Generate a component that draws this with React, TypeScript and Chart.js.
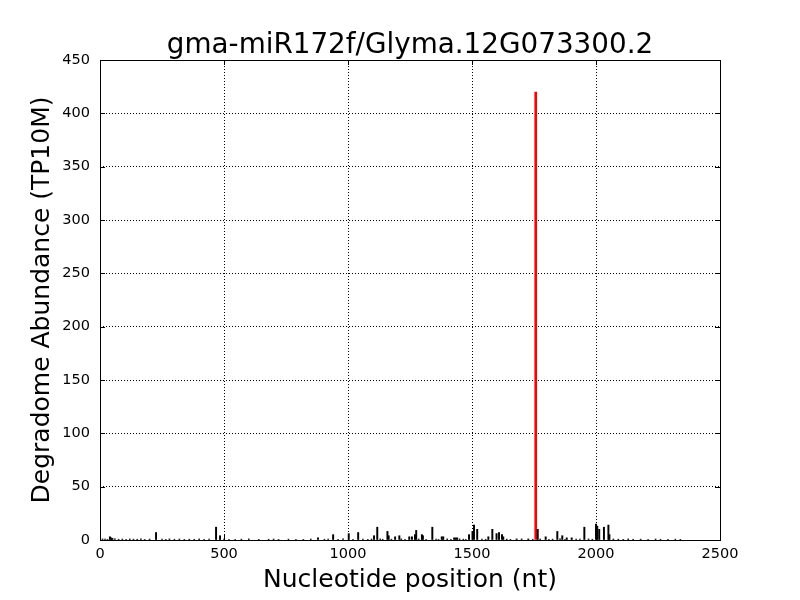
import React, { useEffect, useRef } from "react";
import { Chart, registerables } from "chart.js";

Chart.register(...registerables);

const chartTitle = "gma-miR172f/Glyma.12G073300.2";
const xAxisTitle = "Nucleotide position (nt)";
const yAxisTitle = "Degradome Abundance (TP10M)";

const xTicks = [0, 500, 1000, 1500, 2000, 2500];
const yTicks = [0, 50, 100, 150, 200, 250, 300, 350, 400, 450];

// Black spikes (visible peaks)
const peakPositions = [40, 45, 50, 226, 468, 484, 879, 940, 1003, 1041, 1105, 1118, 1159, 1164, 1190, 1207, 1247, 1258, 1270, 1275, 1298, 1302, 1340, 1378, 1384, 1428, 1434, 1440, 1488, 1502, 1508, 1521, 1566, 1582, 1599, 1609, 1621, 1626, 1680, 1727, 1765, 1797, 1844, 1864, 1882, 1902, 1953, 2000, 2005, 2013, 2032, 2050, 2054];
const peakValues = [3, 2, 1.5, 7, 12, 4, 2, 5, 6, 7, 4, 12, 8, 4, 3, 4, 3, 3, 5, 9, 5, 4, 12, 3, 3, 2, 2, 2, 5, 8, 14, 10, 3, 10, 6, 7, 5, 3, 1, 1, 10, 3, 8, 4, 2, 2, 12, 15, 13, 10, 12, 14, 5];

// Very small background reads along the baseline
const lowPositions = [10, 20, 30, 60, 75, 90, 105, 120, 135, 150, 165, 180, 200, 250, 265, 280, 300, 320, 340, 360, 380, 400, 420, 440, 500, 520, 545, 570, 600, 640, 680, 700, 720, 760, 790, 820, 850, 905, 920, 960, 980, 1020, 1060, 1080, 1095, 1130, 1140, 1175, 1215, 1230, 1285, 1315, 1355, 1365, 1400, 1415, 1450, 1465, 1475, 1540, 1555, 1640, 1655, 1700, 1745, 1775, 1810, 1825, 1855, 1875, 1920, 1935, 1970, 1985, 2070, 2090, 2110, 2130, 2150, 2180, 2210, 2240, 2260, 2290, 2320, 2340];
const lowValues = [1, 0.8, 0.6, 1, 0.7, 0.9, 0.6, 1, 0.8, 0.7, 1, 0.6, 0.9, 0.8, 0.6, 1, 0.7, 0.9, 0.6, 0.8, 0.7, 1, 0.6, 0.8, 0.9, 0.7, 0.6, 0.8, 1, 0.6, 0.7, 0.9, 0.6, 0.8, 0.7, 0.6, 0.9, 0.7, 0.8, 0.6, 1, 0.7, 0.8, 0.6, 0.9, 1, 0.7, 0.8, 1, 0.6, 0.9, 0.7, 0.8, 0.6, 1, 0.7, 1, 0.8, 0.6, 0.9, 0.7, 0.8, 0.6, 1, 0.7, 0.9, 0.6, 0.8, 1, 0.7, 0.9, 0.8, 1, 0.7, 0.9, 0.8, 0.6, 1, 0.7, 0.8, 0.6, 0.9, 0.7, 0.6, 0.8, 0.6];

// Target cleavage site (red)
const targetPositions = [1757];
const targetValues = [420];

const FONT = "'DejaVu Sans', sans-serif";

const framePlugin = {
  id: "framePlugin",
  afterDraw(chart: any) {
    const { ctx, chartArea } = chart;
    const { left, right, top, bottom } = chartArea;
    const xs = chart.scales.x;
    const ys = chart.scales.y;
    ctx.save();
    ctx.strokeStyle = "#000";
    ctx.lineWidth = 1;
    ctx.beginPath();
    const L = 5;
    xTicks.forEach((v) => {
      const px = Math.round(xs.getPixelForValue(v)) + 0.5;
      ctx.moveTo(px, bottom);
      ctx.lineTo(px, bottom - L);
      ctx.moveTo(px, top);
      ctx.lineTo(px, top + L);
    });
    yTicks.forEach((v) => {
      const py = Math.round(ys.getPixelForValue(v)) + 0.5;
      ctx.moveTo(left, py);
      ctx.lineTo(left + L, py);
      ctx.moveTo(right, py);
      ctx.lineTo(right - L, py);
    });
    ctx.stroke();
    ctx.strokeRect(Math.round(left) + 0.5, Math.round(top) + 0.5, Math.round(right - left), Math.round(bottom - top));
    ctx.fillStyle = "#000";
    ctx.font = `27.8px ${FONT}`;
    ctx.textAlign = "center";
    ctx.textBaseline = "alphabetic";
    ctx.fillText(chartTitle, (left + right) / 2, 53);
    ctx.restore();
  },
};

export default function App() {
  const ref = useRef<HTMLCanvasElement | null>(null);
  useEffect(() => {
    if (!ref.current) return;
    const toPts = (xs: number[], ys: number[]) => xs.map((x, i) => ({ x, y: ys[i] }));
    const chart = new Chart(ref.current, {
      type: "bar",
      data: {
        datasets: [
          {
            label: "low",
            data: toPts(lowPositions, lowValues),
            backgroundColor: "#000",
            barThickness: 1,
            grouped: false,
          } as any,
          {
            label: "peaks",
            data: toPts(peakPositions, peakValues),
            backgroundColor: "#000",
            barThickness: 1.3,
            grouped: false,
          } as any,
          {
            label: "target",
            data: toPts(targetPositions, targetValues),
            backgroundColor: "#ff0000",
            barThickness: 2,
            grouped: false,
          } as any,
        ],
      },
      options: {
        animation: false,
        responsive: false,
        layout: { padding: { left: 0, right: 80, top: 60, bottom: 0 } },
        plugins: {
          legend: { display: false },
          tooltip: { enabled: false },
          title: { display: false },
        },
        scales: {
          x: {
            type: "linear",
            min: 0,
            max: 2500,
            offset: false,
            afterFit: (s: any) => {
              s.height = 60;
            },
            afterBuildTicks: (s: any) => {
              s.ticks = xTicks.map((v) => ({ value: v }));
            },
            grid: {
              offset: false,
              color: "#000",
              lineWidth: 1,
              drawTicks: false,
            },
            border: { display: false, dash: [1, 2] },
            ticks: {
              color: "#000",
              font: { family: FONT, size: 14.5 },
              padding: 6,
              maxRotation: 0,
              callback: (v: any) => String(v),
            },
            title: {
              display: true,
              text: xAxisTitle,
              color: "#000",
              font: { family: FONT, size: 25 },
              padding: { top: 0, bottom: 5 },
            },
          },
          y: {
            type: "linear",
            min: 0,
            max: 450,
            afterFit: (s: any) => {
              s.width = 100;
            },
            afterBuildTicks: (s: any) => {
              s.ticks = yTicks.map((v) => ({ value: v }));
            },
            grid: {
              color: "#000",
              lineWidth: 1,
              drawTicks: false,
            },
            border: { display: false, dash: [1, 2] },
            ticks: {
              color: "#000",
              font: { family: FONT, size: 14.5 },
              padding: 10,
              callback: (v: any) => String(v),
            },
            title: {
              display: true,
              text: yAxisTitle,
              color: "#000",
              font: { family: FONT, size: 25 },
              padding: { top: 27, bottom: 0 },
            },
          },
        },
      },
      plugins: [framePlugin],
    });
    return () => chart.destroy();
  }, []);
  return (
    <div style={{ position: "absolute", left: 0, top: 0, width: 800, height: 600, background: "#fff" }}>
      <canvas ref={ref} width={800} height={600} />
    </div>
  );
}
